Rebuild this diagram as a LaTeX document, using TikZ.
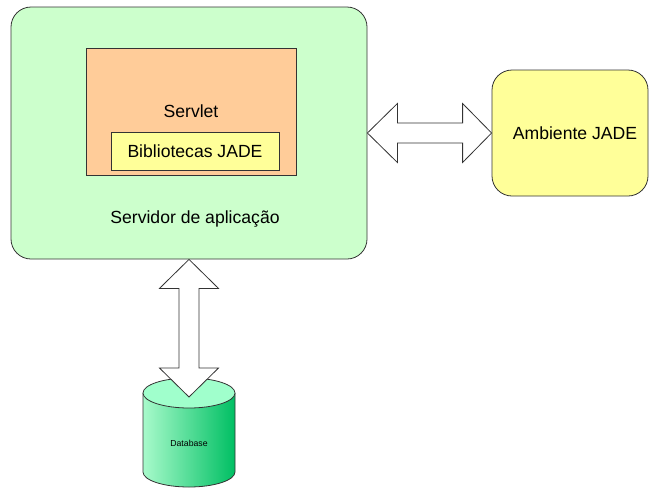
\documentclass[tikz,border=0pt]{standalone}
\usepackage{fontspec}
\setmainfont{Liberation Sans}
\usepackage{tikz}
\usetikzlibrary{calc}
\definecolor{srvfill}{HTML}{CCFFCC}
\definecolor{servletfill}{HTML}{FFCC99}
\definecolor{jadefill}{HTML}{FFFF99}
\definecolor{dblight}{HTML}{A8FACB}
\definecolor{dbdark}{HTML}{00BF63}
\definecolor{dbtopfill}{HTML}{A0FFCC}
\definecolor{edgegray}{HTML}{333333}

\begin{document}
\begin{tikzpicture} [x = 1pt, y = -1pt, line width = .8pt, draw = edgegray,
  box/.style = {draw = edgegray, rectangle, inner sep = 0pt},
  bigtext/.style = {font = \fontsize{17.6}{21}\selectfont},
  blockarrow/.style = {draw = edgegray, fill = white, line join = miter}]
\useasboundingbox (0,0) rectangle (650,488);
\node(srv)[box, fill = srvfill, rounded corners = 20pt, minimum width = 356pt, minimum height = 252pt] at (189,133) {};
\node(srvtxt)[bigtext] at (195,219) {Servidor de aplica\c{c}\~ao};
\node(servlet)[box, fill = servletfill, minimum width = 210pt, minimum height = 127pt] at (191,111.5) {};
\node(servlettxt)[bigtext] at (191,111) {Servlet};
\node(bib)[box, fill = jadefill, minimum width = 168pt, minimum height = 38pt, bigtext] at (195,151) {Bibliotecas JADE};
\node(amb)[box, fill = jadefill, rounded corners = 20pt, minimum width = 156pt, minimum height = 126pt, bigtext] at (570,133) {\hspace{10pt}Ambiente JADE};
% database
\shade[left color = dblight, right color = dbdark] (143,393) -- (143,472) arc[start angle = 180, end angle = 360, x radius = 46pt, y radius = 15pt] -- (235,393) -- cycle;
\draw (143,393) -- (143,472) arc[start angle = 180, end angle = 360, x radius = 46pt, y radius = 15pt] -- (235,393);
\filldraw[fill = dbtopfill] (189,393) ellipse [x radius = 46pt, y radius = 15pt];
\node(db)[font = \fontsize{8.7}{10}\selectfont] at (189,443) {Database};
\coordinate (dbtop) at (189,397);
% arrows
\draw[blockarrow] (srv.east) -- ++(30,-29.5) |- ($(amb.west)+(-29,-10)$) -- ++(0,-19.5) -- (amb.west) -- ++(-29,29.5) |- ($(srv.east)+(30,10)$) -- ++(0,19.5) -- cycle;
\draw[blockarrow] (srv.south) -- ++(29.5,29) -| ($(dbtop)+(10,-29)$) -- ++(19.5,0) -- (dbtop) -- ++(-29.5,-29) -| ($(srv.south)+(-10,29)$) -- ++(-19.5,0) -- cycle;
\end{tikzpicture}
\end{document}
